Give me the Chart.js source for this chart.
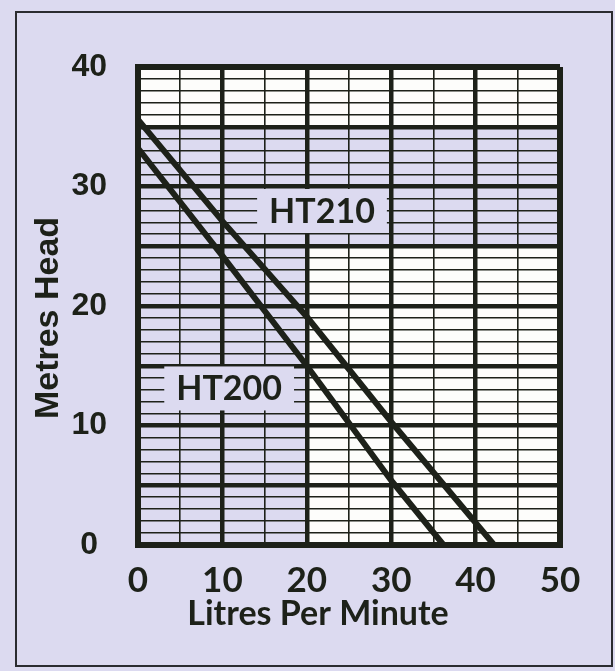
<!DOCTYPE html>
<html>
<head>
<meta charset="utf-8">
<script src="https://cdn.jsdelivr.net/npm/chart.js@4.4.0/dist/chart.umd.min.js"></script>
<style>
  html, body { margin: 0; padding: 0; background: #dcdaf0; }
  #wrap { position: relative; width: 615px; height: 671px; overflow: hidden; }
  #frame { position: absolute; left: 15px; top: 11px; width: 594px; height: 652px; border: 2px solid #2b2c30; }
  canvas { position: absolute; left: 0; top: 0; }
</style>
</head>
<body>
<div id="wrap">
  <div id="frame"></div>
  <canvas id="chart" width="615" height="671"></canvas>
</div>
<script>
  // pump curves (litres per minute vs metres head)
  const ht210Flow = [0, 10, 20, 30, 42.2];
  const ht210Head = [35.6, 27.1, 19.1, 10.3, 0];
  const ht200Flow = [0, 10, 20, 30, 36.2];
  const ht200Head = [33.2, 24.2, 15.0, 5.4, 0];

  const xTickValues = [0, 10, 20, 30, 40, 50];
  const xTickLabels = ["0", "10", "20", "30", "40", "50"];
  const yTickValues = [0, 10, 20, 30, 40];
  const yTickLabels = ["0", "10", "20", "30", "40"];

  // white panels on the grid paper, in data units
  const whiteBands = [
    { x: [0, 50], y: [35, 40] },
    { x: [20, 50], y: [0, 25] }
  ];

  const curveLabels = [
    { text: "HT210", x: 21.8, y: 27.95 },
    { text: "HT200", x: 10.8, y: 13.1 }
  ];

  const INK = "#1d2119";
  const PAPER = "#dcdaf0";

  function points(xs, ys) {
    return xs.map((x, i) => ({ x, y: ys[i] }));
  }

  function tickText(values, labels, value) {
    const i = values.indexOf(value);
    return i === -1 ? "" : labels[i];
  }

  const paper = {
    id: "paper",
    beforeDraw(chart) {
      const { ctx, scales: { x, y } } = chart;
      ctx.save();
      ctx.fillStyle = "#fdfdfb";
      whiteBands.forEach((band) => {
        const left = x.getPixelForValue(band.x[0]);
        const right = x.getPixelForValue(band.x[1]);
        const top = y.getPixelForValue(band.y[1]);
        const bottom = y.getPixelForValue(band.y[0]);
        ctx.fillRect(left, top, right - left, bottom - top);
      });
      ctx.restore();
    },
    beforeDatasetsDraw(chart) {
      const { ctx, scales: { x, y } } = chart;
      ctx.save();
      ctx.font = "bold 34px Lato";
      ctx.textAlign = "center";
      ctx.textBaseline = "middle";
      curveLabels.forEach((label) => {
        const cx = x.getPixelForValue(label.x);
        const cy = y.getPixelForValue(label.y);
        const w = ctx.measureText(label.text).width + 24;
        ctx.fillStyle = PAPER;
        ctx.fillRect(cx - w / 2, cy - 22, w, 44);
        ctx.fillStyle = INK;
        ctx.fillText(label.text, cx, cy + 1);
      });
      ctx.restore();
    },
    afterDraw(chart) {
      const { ctx } = chart;
      ctx.save();
      ctx.fillStyle = INK;
      ctx.textAlign = "center";
      ctx.textBaseline = "middle";
      ctx.font = "bold 34px Lato";
      ctx.fillText("Litres Per Minute", 318, 614);
      ctx.translate(49, 318);
      ctx.rotate(-Math.PI / 2);
      ctx.font = "bold 34px 'Liberation Sans'";
      ctx.fillText("Metres Head", 0, 0);
      ctx.restore();
    }
  };

  new Chart(document.getElementById("chart"), {
    type: "scatter",
    data: {
      datasets: [
        {
          label: "HT210",
          data: points(ht210Flow, ht210Head),
          showLine: true,
          borderColor: INK,
          borderWidth: 6,
          pointRadius: 0,
          tension: 0
        },
        {
          label: "HT200",
          data: points(ht200Flow, ht200Head),
          showLine: true,
          borderColor: INK,
          borderWidth: 6,
          pointRadius: 0,
          tension: 0
        }
      ]
    },
    options: {
      responsive: false,
      animation: false,
      layout: { padding: { top: 67, right: 55, left: 0, bottom: 0 } },
      plugins: {
        legend: { display: false },
        tooltip: { enabled: false }
      },
      scales: {
        x: {
          type: "linear",
          min: 0,
          max: 50,
          afterFit: (scale) => { scale.height = 126; },
          border: { display: true, width: 6, color: INK },
          grid: {
            color: INK,
            drawTicks: false,
            lineWidth: (ctx) => {
              const v = ctx.tick.value;
              if (v === 0 || v === 50) return 6;
              return v % 10 === 0 ? 4.5 : 1.6;
            }
          },
          ticks: {
            stepSize: 5,
            autoSkip: false,
            maxRotation: 0,
            padding: 18,
            color: INK,
            font: { family: "Lato", weight: "bold", size: 35, lineHeight: 1 },
            callback: (value) => tickText(xTickValues, xTickLabels, value)
          }
        },
        y: {
          type: "linear",
          min: 0,
          max: 40,
          afterFit: (scale) => { scale.width = 138; },
          border: { display: true, width: 6, color: INK },
          grid: {
            color: INK,
            drawTicks: false,
            lineWidth: (ctx) => {
              const v = ctx.tick.value;
              if (v === 0 || v === 40) return 6;
              return v % 5 === 0 ? 4.5 : 1.6;
            }
          },
          ticks: {
            stepSize: 1,
            autoSkip: false,
            crossAlign: "center",
            padding: 31,
            color: INK,
            font: { family: "Liberation Sans", weight: "bold", size: 32, lineHeight: 1 },
            callback: (value) => tickText(yTickValues, yTickLabels, value)
          }
        }
      }
    },
    plugins: [paper]
  });
</script>
</body>
</html>
